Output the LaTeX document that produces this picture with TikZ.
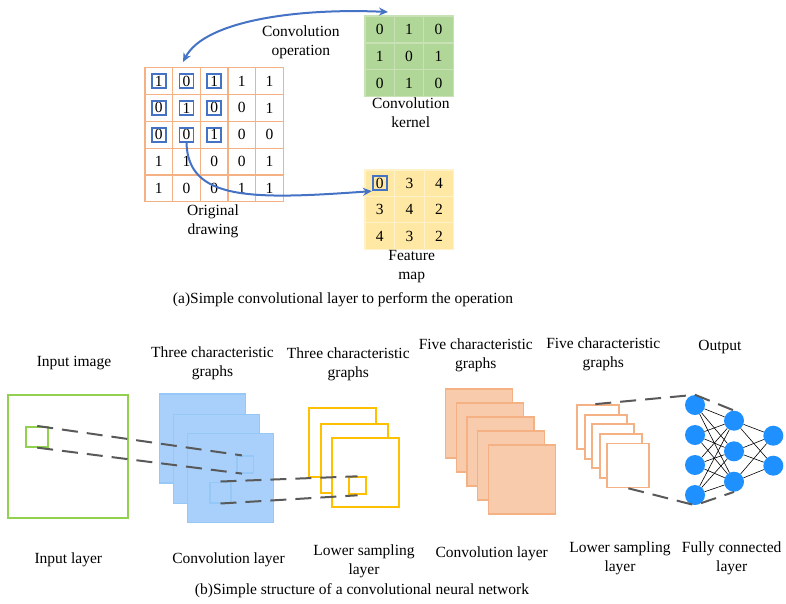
\documentclass[tikz,border=0pt]{standalone}
\usepackage{fontspec}
\setmainfont{Liberation Serif}
\usetikzlibrary{arrows.meta,calc}
\definecolor{org}{HTML}{F4B183}
\definecolor{orgfill}{HTML}{F8CBAD}
\definecolor{cblue}{HTML}{4472C4}
\definecolor{kfill}{HTML}{B0D698}
\definecolor{kline}{HTML}{C8E2B6}
\definecolor{ffill}{HTML}{FFE8A3}
\definecolor{fline}{HTML}{FFF1C8}
\definecolor{sheetblue}{HTML}{A8D0FA}
\definecolor{sheetbord}{HTML}{96C8F7}
\definecolor{ingreen}{HTML}{92D050}
\definecolor{yel}{HTML}{FFC000}
\definecolor{dgray}{HTML}{595959}
\definecolor{nblue}{HTML}{1E90FF}
\tikzset{
  gcell/.style={draw=org, line width=1.2pt, minimum width=27.66pt, minimum height=26.8pt, inner sep=0pt, outer sep=0pt},
  kcell/.style={draw=kline, fill=kfill, line width=1.2pt, minimum width=29.4pt, minimum height=26.9pt, inner sep=0pt, outer sep=0pt},
  fcell/.style={draw=fline, fill=ffill, line width=1.2pt, minimum width=29.6pt, minimum height=26.4pt, inner sep=0pt, outer sep=0pt},
  bsq/.style={draw=cblue, line width=1.8pt, minimum size=14pt, inner sep=0pt},
  carrow/.style={draw=cblue, line width=2pt},
  lbl/.style={align=center, inner sep=0pt},
  bsheet/.style={draw=sheetbord, fill=sheetblue, line width=1.5pt, minimum width=86pt, minimum height=89pt, inner sep=0pt},
  ysheet/.style={draw=yel, fill=white, line width=2pt, minimum width=67pt, minimum height=69pt, inner sep=0pt},
  osheet/.style={draw=org, fill=orgfill, line width=1.5pt, minimum width=67pt, minimum height=69pt, inner sep=0pt},
  wsheet/.style={draw=org, fill=white, line width=1.8pt, minimum width=42pt, minimum height=44pt, inner sep=0pt},
  dline/.style={draw=dgray, line width=2pt, dash pattern=on 16pt off 9pt},
  neuron/.style={circle, fill=nblue, minimum size=20pt, inner sep=0pt},
  edge/.style={draw=black, line width=0.6pt}
}
\begin{document}
\begin{tikzpicture}[x=1pt,y=-1pt, font=\fontsize{15.5}{19}\selectfont]
\useasboundingbox (0,0) rectangle (786,603);
% ---------- (a) ----------
\foreach \v [count=\i from 0] in {1,0,1,1,1, 0,1,0,0,1, 0,0,1,0,0, 1,1,0,0,1, 1,0,0,1,1}{
  \pgfmathtruncatemacro\r{int(\i/5)}
  \pgfmathtruncatemacro\c{mod(\i,5)}
  \node[gcell] (g-\r-\c) at ({145+27.66*(\c+0.5)},{67.7+26.8*(\r+0.5)}) {\v};
}
\foreach \r in {0,1,2}{\foreach \c in {0,1,2}{\node[bsq] (b-\r-\c) at (g-\r-\c.center) {};}}
\foreach \v [count=\i from 0] in {0,1,0,1,0,1,0,1,0}{
  \pgfmathtruncatemacro\r{int(\i/3)}
  \pgfmathtruncatemacro\c{mod(\i,3)}
  \node[kcell] (k-\r-\c) at ({365+29.4*(\c+0.5)},{16+26.9*(\r+0.5)}) {\v};
}
\foreach \v [count=\i from 0] in {0,3,4,3,4,2,4,3,2}{
  \pgfmathtruncatemacro\r{int(\i/3)}
  \pgfmathtruncatemacro\c{mod(\i,3)}
  \node[fcell] (f-\r-\c) at ({365+29.6*(\c+0.5)},{170+26.4*(\r+0.5)}) {\v};
}
\node[bsq] (fb) at (f-0-0.center) {};
\coordinate (a1s) at (183,62);
\coordinate (a1e) at (388,12);
\draw[carrow, {Stealth[length=9pt,width=8pt]}-{Stealth[length=9pt,width=8pt]}] (a1s) .. controls (205,20) and (300,8) .. (a1e);
\draw[carrow, -{Stealth[length=9pt,width=8pt]}] (b-2-1.south) .. controls (188,200) and (250,200) .. (fb.south west);
\node[lbl] (lop) at (300.8,42.5) {Convolution\\operation};
\node[lbl] (lker) at (410.8,112.5) {Convolution\\kernel};
\node[lbl] (lorig) at (213,221.2) {Original\\drawing};
\node[lbl] (lfeat) at (411.7,266.3) {Feature\\map};
\node[lbl] (capa) at (343,300) {(a)Simple convolutional layer to perform the operation};
% ---------- (b) ----------
\node[draw=ingreen, line width=2pt, minimum width=120pt, minimum height=123.3pt, inner sep=0pt] (gin) at (68.3,456.7) {};
\node[draw=ingreen, line width=2pt, minimum width=22.3pt, minimum height=19.7pt, inner sep=0pt] (gs) at (37.2,436.8) {};
\node[bsheet] (bs1) at (202.3,438.7) {};
\node[bsheet] (bs2) at (216.3,458.8) {};
\node[bsheet] (bs3) at (230.3,477.8) {};
\node[draw=sheetbord, line width=1.5pt, minimum width=16.5pt, minimum height=16.7pt, inner sep=0pt] (sb1) at (245,464.5) {};
\node[draw=sheetbord, line width=1.5pt, minimum width=21pt, minimum height=20.5pt, inner sep=0pt] (sb2) at (220.5,492.5) {};
\draw[dline] (gs.north) -- ([xshift=-3pt]sb1.north);
\draw[dline] (gs.south) -- ([xshift=-3pt]sb1.south);
\node[ysheet] (ys1) at (342.8,442.8) {};
\node[ysheet] (ys2) at (354.2,458.8) {};
\node[ysheet] (ys3) at (365.2,472.8) {};
\node[draw=yel, line width=2pt, minimum width=17pt, minimum height=17pt, inner sep=0pt] (sy) at (357.5,485.8) {};
\draw[dline] (sb2.north) -- (sy.north);
\draw[dline] (sb2.south) -- (sy.south);
\foreach \i in {0,...,4}{
  \node[osheet] (os\i) at ({479.2+10.65*\i},{423.5+14*\i}) {};
}
\foreach \i in {0,...,4}{
  \node[wsheet] (ws\i) at ({598.3+7.5*\i},{427+9.6*\i}) {};
}
\foreach \j/\y in {1/405,2/435,3/465,4/495}{\node[neuron] (n1-\j) at (695,\y) {};}
\foreach \j/\y in {1/420.7,2/451.3,3/481.7}{\node[neuron] (n2-\j) at (734,\y) {};}
\foreach \j/\y in {1/435.7,2/465.7}{\node[neuron] (n3-\j) at (773.3,\y) {};}
\foreach \i in {1,...,4}{\foreach \j in {1,2,3}{\draw[edge] (n1-\i) -- (n2-\j);}}
\foreach \i in {1,2,3}{\foreach \j in {1,2}{\draw[edge] (n2-\i) -- (n3-\j);}}
\draw[dline] ([xshift=-3pt]ws0.north) -- (n1-1.north) -- (n2-1.north);
\draw[dline] (ws4.south) -- (n1-4.south) -- (n2-3.south);
% labels
\node[lbl] (t1) at (74,363) {Input image};
\node[lbl] (t2) at (212.5,363.3) {Three characteristic\\graphs};
\node[lbl] (t3) at (348.3,364) {Three characteristic\\graphs};
\node[lbl] (t4) at (475.8,355) {Five characteristic\\graphs};
\node[lbl] (t5) at (603.3,354.2) {Five characteristic\\graphs};
\node[lbl] (t6) at (720,347.3) {Output};
\node[lbl] (u1) at (68.3,560) {Input layer};
\node[lbl] (u2) at (228.5,560) {Convolution layer};
\node[lbl] (u3) at (364,560.8) {Lower sampling\\layer};
\node[lbl] (u4) at (491.7,554) {Convolution layer};
\node[lbl] (u5) at (620,558.2) {Lower sampling\\layer};
\node[lbl] (u6) at (731.7,558) {Fully connected\\layer};
\node[lbl] (capb) at (362,591) {(b)Simple structure of a convolutional neural network};
\end{tikzpicture}
\end{document}
